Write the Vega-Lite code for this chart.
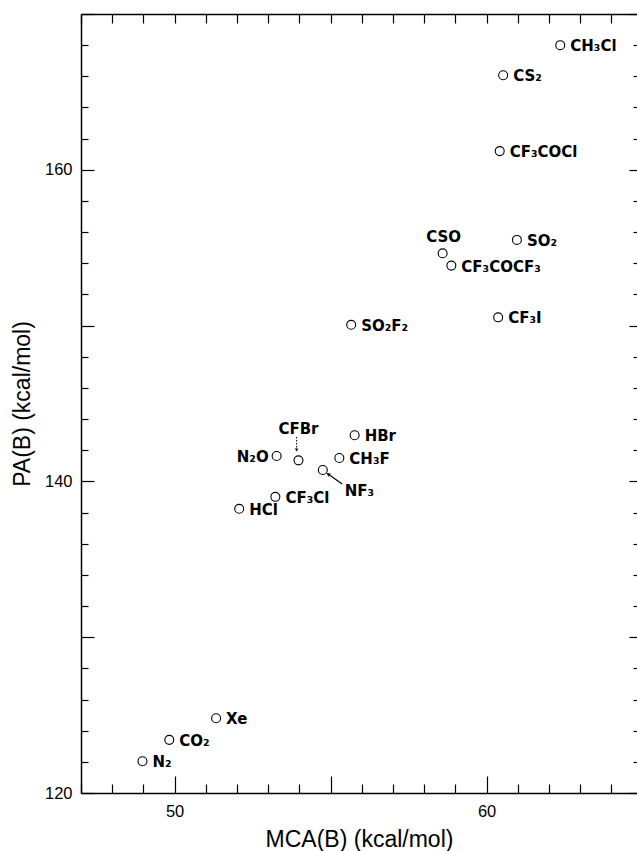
{
  "$schema": "https://vega.github.io/schema/vega-lite/v6.json",
  "width": 556,
  "height": 779,
  "autosize": {"type": "none"},
  "padding": {"left": 81, "top": 14, "right": 0, "bottom": 58},
  "background": "white",
  "config": {
    "view": {"stroke": null},
    "font": "Liberation Sans",
    "axis": {
      "grid": false,
      "domainColor": "black",
      "domainWidth": 1.5,
      "tickColor": "black",
      "tickWidth": 1.2,
      "labelColor": "black",
      "titleColor": "black",
      "labelFont": "Liberation Sans",
      "titleFont": "Liberation Sans",
      "labelFontSize": 16.5,
      "titleFontSize": 23,
      "titleFontWeight": "normal",
      "labelFlush": false,
      "labelOverlap": false
    }
  },
  "datasets": {
    "pts": [
      {"name": "CH3Cl", "label": "CH₃Cl", "mca": 62.36, "pa": 168.0},
      {"name": "CS2", "label": "CS₂", "mca": 60.53, "pa": 166.07},
      {"name": "CF3COCl", "label": "CF₃COCl", "mca": 60.42, "pa": 161.2},
      {"name": "SO2", "label": "SO₂", "mca": 60.97, "pa": 155.5},
      {"name": "CSO", "label": "CSO", "mca": 58.59, "pa": 154.64},
      {"name": "CF3COCF3", "label": "CF₃COCF₃", "mca": 58.87, "pa": 153.85},
      {"name": "CF3I", "label": "CF₃I", "mca": 60.37, "pa": 150.53},
      {"name": "SO2F2", "label": "SO₂F₂", "mca": 55.66, "pa": 150.05},
      {"name": "HBr", "label": "HBr", "mca": 55.77, "pa": 142.96},
      {"name": "CH3F", "label": "CH₃F", "mca": 55.28, "pa": 141.5},
      {"name": "NF3", "label": "NF₃", "mca": 54.75, "pa": 140.73},
      {"name": "N2O", "label": "N₂O", "mca": 53.27, "pa": 141.63},
      {"name": "CFBr", "label": "CFBr", "mca": 53.97, "pa": 141.35},
      {"name": "CF3Cl", "label": "CF₃Cl", "mca": 53.23, "pa": 139.01},
      {"name": "HCl", "label": "HCl", "mca": 52.07, "pa": 138.24},
      {"name": "Xe", "label": "Xe", "mca": 51.33, "pa": 124.8},
      {"name": "CO2", "label": "CO₂", "mca": 49.83, "pa": 123.41},
      {"name": "N2", "label": "N₂", "mca": 48.97, "pa": 122.04}
    ],
    "arrows": [
      {"name": "CFBr", "x": 53.91, "y": 142.85, "x2": 53.91, "y2": 142.02},
      {"name": "NF3", "x": 55.37, "y": 139.83, "x2": 54.92, "y2": 140.47}
    ]
  },
  "layer": [
    {
      "data": {"name": "pts"},
      "mark": {"type": "point", "shape": "circle", "size": 80, "filled": false, "stroke": "black", "strokeWidth": 1.1, "opacity": 1},
      "encoding": {
        "x": {
          "field": "mca", "type": "quantitative",
          "scale": {"domain": [47, 64.82], "nice": false, "zero": false},
          "axis": {
            "orient": "bottom",
            "title": "MCA(B) (kcal/mol)",
            "values": [47,48,49,50,51,52,53,54,55,56,57,58,59,60,61,62,63,64],
            "tickSize": {"condition": {"test": "datum.value % 5 === 0", "value": -17}, "value": -9},
            "labelExpr": "datum.value % 10 === 0 ? datum.label : ''",
            "labelPadding": 27,
            "titlePadding": 1
          }
        },
        "y": {
          "field": "pa", "type": "quantitative",
          "scale": {"domain": [120, 170], "nice": false, "zero": false},
          "axis": {
            "orient": "left",
            "title": "PA(B) (kcal/mol)",
            "values": [120,122,124,126,128,130,132,134,136,138,140,142,144,146,148,150,152,154,156,158,160,162,164,166,168,170],
            "tickSize": {"condition": {"test": "datum.value % 10 === 0", "value": -13}, "value": -7},
            "labelExpr": "datum.value % 20 === 0 ? datum.label : ''",
            "labelPadding": 22,
            "titlePadding": 10
          }
        }
      }
    },
    {
      "data": {"name": "pts"},
      "transform": [{"filter": "indexof(['N2O','CSO','CFBr','NF3'], datum.name) < 0"}],
      "mark": {"type": "text", "align": "left", "baseline": "middle", "dx": 10, "dy": 1, "fontSize": 15, "fontWeight": "bold", "font": "DejaVu Sans", "color": "black"},
      "encoding": {
        "x": {
          "field": "mca", "type": "quantitative",
          "axis": {
            "orient": "top", "title": null, "labels": false,
            "values": [47,48,49,50,51,52,53,54,55,56,57,58,59,60,61,62,63,64],
            "tickSize": -9
          }
        },
        "y": {
          "field": "pa", "type": "quantitative",
          "axis": {
            "orient": "right", "title": null, "labels": false, "domain": false,
            "values": [120,122,124,126,128,130,132,134,136,138,140,142,144,146,148,150,152,154,156,158,160,162,164,166,168,170],
            "tickSize": {"condition": {"test": "datum.value % 10 === 0", "value": -8}, "value": -4}
          }
        },
        "text": {"field": "label"}
      }
    },
    {
      "data": {"name": "pts"},
      "transform": [{"filter": "datum.name === 'N2O'"}],
      "mark": {"type": "text", "align": "right", "baseline": "middle", "dx": -8, "dy": 1, "fontSize": 15, "fontWeight": "bold", "font": "DejaVu Sans", "color": "black"},
      "encoding": {
        "x": {"field": "mca", "type": "quantitative", "axis": null},
        "y": {"field": "pa", "type": "quantitative", "axis": null},
        "text": {"field": "label"}
      }
    },
    {
      "data": {"name": "pts"},
      "transform": [{"filter": "datum.name === 'CSO'"}],
      "mark": {"type": "text", "align": "center", "baseline": "middle", "dx": 1, "dy": -16, "fontSize": 15, "fontWeight": "bold", "font": "DejaVu Sans", "color": "black"},
      "encoding": {
        "x": {"field": "mca", "type": "quantitative", "axis": null},
        "y": {"field": "pa", "type": "quantitative", "axis": null},
        "text": {"field": "label"}
      }
    },
    {
      "data": {"name": "pts"},
      "transform": [{"filter": "datum.name === 'CFBr'"}],
      "mark": {"type": "text", "align": "center", "baseline": "middle", "dx": 0, "dy": -31, "fontSize": 15, "fontWeight": "bold", "font": "DejaVu Sans", "color": "black"},
      "encoding": {
        "x": {"field": "mca", "type": "quantitative", "axis": null},
        "y": {"field": "pa", "type": "quantitative", "axis": null},
        "text": {"field": "label"}
      }
    },
    {
      "data": {"name": "pts"},
      "transform": [{"filter": "datum.name === 'NF3'"}],
      "mark": {"type": "text", "align": "left", "baseline": "middle", "dx": 22, "dy": 21, "fontSize": 15, "fontWeight": "bold", "font": "DejaVu Sans", "color": "black"},
      "encoding": {
        "x": {"field": "mca", "type": "quantitative", "axis": null},
        "y": {"field": "pa", "type": "quantitative", "axis": null},
        "text": {"field": "label"}
      }
    },
    {
      "data": {"name": "arrows"},
      "transform": [{"filter": "datum.name === 'CFBr'"}],
      "mark": {"type": "rule", "color": "black", "strokeWidth": 1, "strokeDash": [1.5, 1.5]},
      "encoding": {
        "x": {"field": "x", "type": "quantitative", "axis": null},
        "y": {"field": "y", "type": "quantitative", "axis": null},
        "x2": {"field": "x2"},
        "y2": {"field": "y2"}
      }
    },
    {
      "data": {"name": "arrows"},
      "transform": [{"filter": "datum.name === 'NF3'"}],
      "mark": {"type": "rule", "color": "black", "strokeWidth": 1.2},
      "encoding": {
        "x": {"field": "x", "type": "quantitative", "axis": null},
        "y": {"field": "y", "type": "quantitative", "axis": null},
        "x2": {"field": "x2"},
        "y2": {"field": "y2"}
      }
    },
    {
      "data": {"name": "arrows"},
      "transform": [{"filter": "datum.name === 'CFBr'"}],
      "mark": {"type": "point", "shape": "triangle-down", "size": 12, "filled": true, "color": "black", "opacity": 1},
      "encoding": {
        "x": {"field": "x2", "type": "quantitative", "axis": null},
        "y": {"field": "y2", "type": "quantitative", "axis": null}
      }
    },
    {
      "data": {"name": "arrows"},
      "transform": [{"filter": "datum.name === 'NF3'"}],
      "mark": {"type": "point", "shape": "triangle-up", "size": 18, "angle": 306, "filled": true, "color": "black", "opacity": 1},
      "encoding": {
        "x": {"field": "x2", "type": "quantitative", "axis": null},
        "y": {"field": "y2", "type": "quantitative", "axis": null}
      }
    }
  ],
  "resolve": {"axis": {"x": "independent", "y": "independent"}}
}
